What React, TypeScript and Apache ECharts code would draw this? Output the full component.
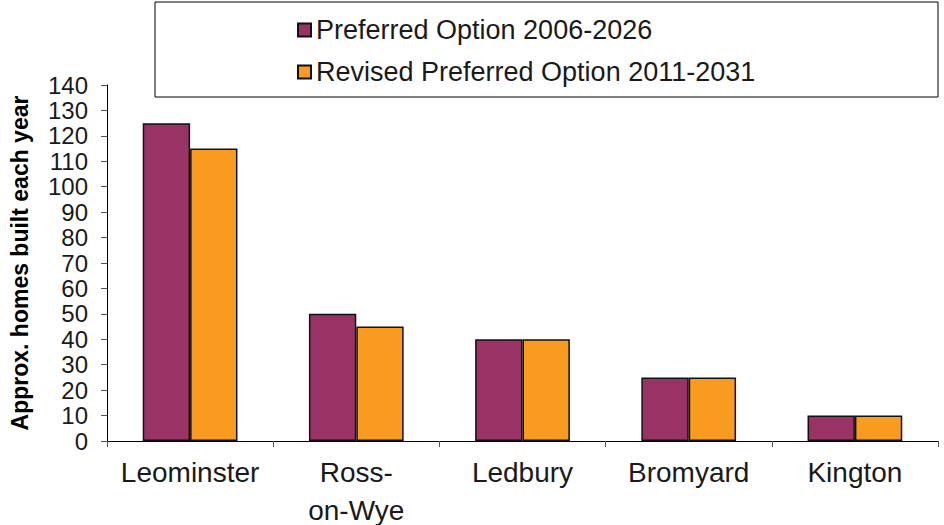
import React, { useEffect, useRef } from "react";
import * as echarts from "echarts";

const categories = ["Leominster", "Ross-\non-Wye", "Ledbury", "Bromyard", "Kington"];
const preferred2006 = [125, 50, 40, 25, 10];
const revised2011 = [115, 45, 40, 25, 10];
const seriesNames = ["Preferred Option 2006-2026", "Revised Preferred Option 2011-2031"];
const yAxisTitle = "Approx. homes built each year";

export default function App() {
  const ref = useRef<HTMLDivElement>(null);
  useEffect(() => {
    if (!ref.current) return;
    const chart = echarts.init(ref.current, null, { renderer: "svg" });
    const font = "'Liberation Sans', Arial, sans-serif";
    chart.setOption({
      animation: false,
      backgroundColor: "#ffffff",
      textStyle: { fontFamily: font },
      graphic: [
        {
          type: "rect",
          shape: { x: 155, y: 2, width: 783, height: 95 },
          style: { fill: "none", stroke: "#000", lineWidth: 1 },
          silent: true,
        },
      ],
      legend: {
        orient: "vertical",
        left: 292,
        top: 10,
        itemWidth: 13,
        itemHeight: 13,
        itemGap: 12,
        icon: "rect",
        textStyle: { fontSize: 27, lineHeight: 30, color: "#1a1a1a", fontFamily: font },
        data: seriesNames,
      },
      grid: { left: 107, right: 6, top: 85, bottom: 84, containLabel: false, outerBoundsMode: "none" },
      xAxis: {
        type: "category",
        data: categories,
        axisLine: { lineStyle: { color: "#000", width: 1 } },
        axisTick: { show: true, length: 6, lineStyle: { color: "#555" } },
        axisLabel: { color: "#1a1a1a", fontSize: 28, margin: 12, lineHeight: 38, fontFamily: font, interval: 0 },
      },
      yAxis: {
        type: "value",
        min: 0,
        max: 140,
        interval: 10,
        name: yAxisTitle,
        nameLocation: "middle",
        nameGap: 76,
        nameTextStyle: { fontSize: 23, fontWeight: "bold", color: "#000", fontFamily: font },
        axisLine: { show: true, lineStyle: { color: "#000", width: 1 } },
        axisTick: { show: true, length: 6, lineStyle: { color: "#555" } },
        axisLabel: { color: "#1a1a1a", fontSize: 24, margin: 19, fontFamily: font },
        splitLine: { show: false },
      },
      series: [
        {
          name: seriesNames[0],
          type: "bar",
          data: preferred2006,
          barGap: "0%",
          barCategoryGap: "43%",
          itemStyle: { color: "#993366", borderColor: "#111", borderWidth: 1.5 },
        },
        {
          name: seriesNames[1],
          type: "bar",
          data: revised2011,
          barGap: "0%",
          barCategoryGap: "43%",
          itemStyle: { color: "#F99B1E", borderColor: "#111", borderWidth: 1.5 },
        },
      ],
    });
    return () => chart.dispose();
  }, []);
  return <div ref={ref} style={{ width: 944, height: 525, position: "absolute", left: 0, top: 0 }} />;
}
